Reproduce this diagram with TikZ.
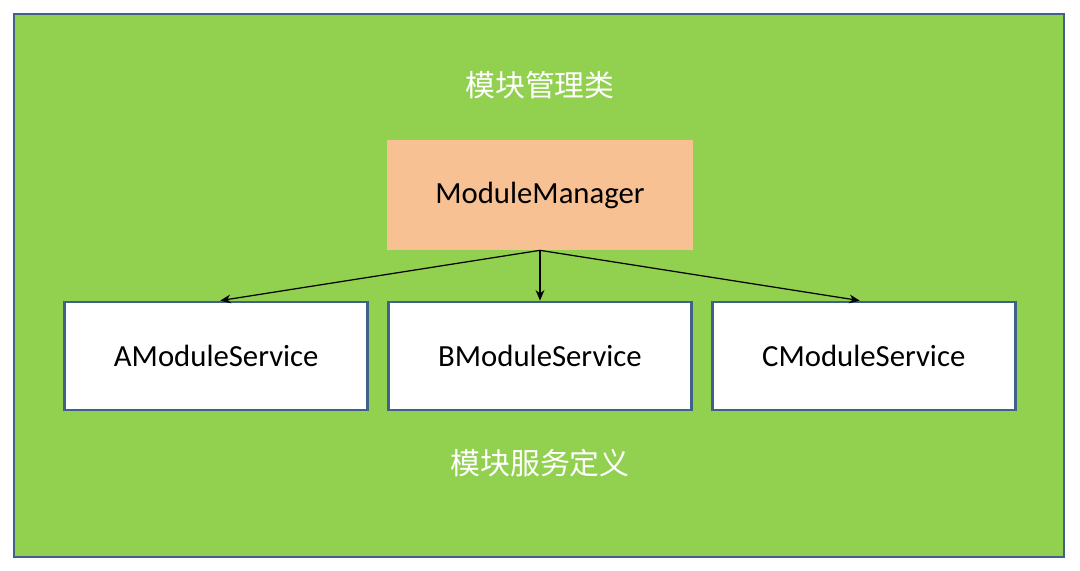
\documentclass[tikz,border=0pt]{standalone}
\usepackage{fontspec}
\setmainfont{Carlito}
\newfontfamily\cjk{Noto Sans CJK SC}
\usepackage{xcolor}
\usetikzlibrary{positioning,arrows.meta}
\definecolor{hoja}{HTML}{92D050}
\definecolor{borde}{HTML}{41618A}
\definecolor{melocoton}{HTML}{F8C193}

\begin{document}
\begin{tikzpicture}[x=0.02cm, y=-0.02cm, node distance=0.36cm,
  font=\fontsize{17.5}{20}\selectfont,
  servicio/.style={draw=borde, line width=1.6pt, fill=white, minimum width=6.06cm, minimum height=2.16cm},
  gestor/.style={fill=melocoton, minimum width=6.12cm, minimum height=2.2cm},
  titulo/.style={text=white, font=\cjk\fontsize{17}{20}\selectfont},
  flecha/.style={-{Stealth[length=6pt, width=5pt]}, line width=0.7pt}]
\useasboundingbox (0,0) rectangle (1080,571);
\draw[borde, line width=1.7pt, fill=hoja] (14,14) rectangle (1064,557);
\node[titulo] (t1) at (540,85) {模块管理类};
\node[gestor] (m) at (540,195) {\raisebox{-2pt}{ModuleManager}};
\node[servicio] (b) at (540,356) {BModuleService};
\node[servicio, left=of b] (a) {AModuleService};
\node[servicio, right=of b] (c) {CModuleService};
\node[titulo] (t2) at (540,463) {模块服务定义};
\draw[flecha] (m.south) -- ([xshift=0.08cm]a.north); \draw[flecha] (m.south) -- (b.north); \draw[flecha] (m.south) -- ([xshift=-0.08cm]c.north);
\end{tikzpicture}
\end{document}
